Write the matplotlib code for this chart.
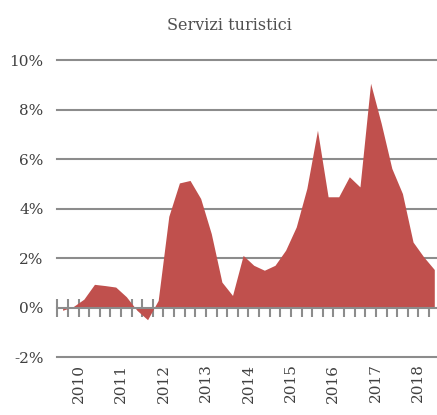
import matplotlib
matplotlib.use("Agg")
from matplotlib import pyplot as plt
import matplotlib.transforms as mtransforms

# quarterly growth, 2010 Q1 .. 2018 Q4 (percent)
values = [-0.1, 0.05, 0.35, 0.95, 0.9, 0.84, 0.45, -0.1, -0.48, 0.3,
          3.7, 5.05, 5.15, 4.42, 3.0, 1.04, 0.5, 2.12, 1.72, 1.52,
          1.72, 2.33, 3.27, 4.83, 7.18, 4.49, 4.49, 5.3, 4.89, 9.08,
          7.46, 5.64, 4.62, 2.66, 2.06, 1.55]
years = ["2010", "2011", "2012", "2013", "2014", "2015", "2016", "2017", "2018"]
yticks = [-2, 0, 2, 4, 6, 8, 10]
title = "Servizi turistici"

FONT = "DejaVu Serif"
TXT = "#404040"
GRID = "#8c8c8c"
FILL = "#C0504D"

fig = plt.figure(figsize=(4.37, 4.15), dpi=100)
# axes right edge runs past the figure border (chart is cropped)
ax = fig.add_axes([57.3 / 437, 1 - 357.3 / 415, (439.6 - 57.3) / 437, (357.3 - 60.5) / 415])

n = len(values)
x = [k + 0.5 for k in range(n)]

# gridlines under the area
for v in yticks:
    if v != 0:
        ax.axhline(v, color=GRID, lw=1.5, zorder=1, clip_on=False)

ax.fill_between(x, values, 0, color=FILL, lw=0, zorder=2)

ax.set_xlim(0, n)
ax.set_ylim(-2, 10)

for s in ["top", "right", "left"]:
    ax.spines[s].set_visible(False)
ax.spines["bottom"].set_position(("data", 0))
ax.spines["bottom"].set_color(GRID)
ax.spines["bottom"].set_linewidth(1.5)
ax.spines["bottom"].set_zorder(3)

ax.set_xticks(range(n + 1))
ax.tick_params(axis="x", direction="inout", length=13, width=1.5, color=GRID, labelbottom=False)

ax.set_yticks(yticks)
ax.set_yticklabels(["%d%%" % v for v in yticks], fontfamily=FONT, fontsize=11, color=TXT)
ax.tick_params(axis="y", length=0, pad=10)

# year labels centred on each block of four quarters
trans = mtransforms.blended_transform_factory(ax.transData, fig.transFigure)
for i, yr in enumerate(years):
    ax.text(2 + 4 * i, 1 - 383 / 415, yr, rotation=90, ha="center", va="center",
            fontfamily=FONT, fontsize=11, color=TXT, transform=trans)

fig.text(229 / 437, 1 - 25 / 415, title, ha="center", va="center",
         fontfamily=FONT, fontsize=11.5, color="#505050")

fig.savefig("out.png", dpi=100)
